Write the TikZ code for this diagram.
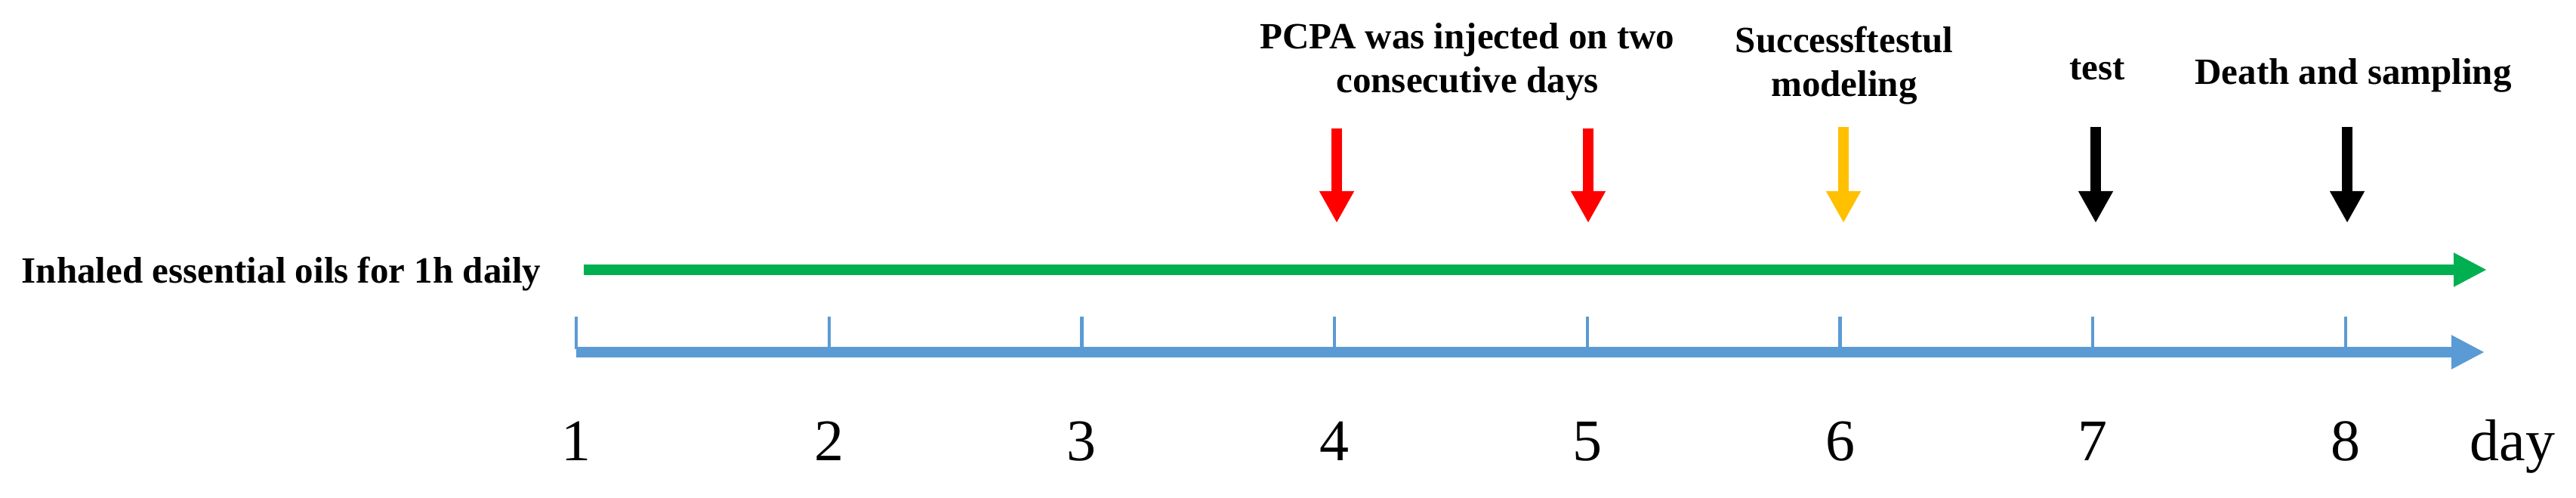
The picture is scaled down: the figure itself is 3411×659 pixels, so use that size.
\documentclass[tikz,border=0pt]{standalone}
\usepackage{fontspec}
\setmainfont{Liberation Serif}
\usetikzlibrary{arrows.meta}
\definecolor{tlgreen}{HTML}{00B050}
\definecolor{tlblue}{HTML}{5B9BD5}
\definecolor{tlred}{HTML}{FF0000}
\definecolor{tlyellow}{HTML}{FFC000}
\begin{document}
\begin{tikzpicture}[x=0.25pt,y=-0.25pt,
  lab/.style={font=\fontsize{12.25}{14.5}\selectfont\bfseries, inner sep=0pt, align=center, anchor=base},
  num/.style={font=\fontsize{19.5}{23}\selectfont, inner sep=0pt, anchor=base},
  evarrow/.style={line width=3.5pt, -{Triangle[length=10.5pt,width=10.75pt]}},
  axisarrow/.style={line width=3.5pt, -{Triangle[length=11pt,width=10.5pt]}},
  tickmark/.style={line width=1.1pt, draw=tlblue}]
\useasboundingbox (0,0) rectangle (3411,659);

% green inhalation line
\node[lab, anchor=base west] (inh) at (28,375) {Inhaled essential oils for 1h daily};
\coordinate (gs) at (773,357);
\coordinate (ge) at (3293,357);
\draw[axisarrow, draw=tlgreen, fill=tlgreen] (gs) -- (ge);

% blue time axis
\coordinate (bs) at (763,466);
\coordinate (be) at (3290,466);
\draw[axisarrow, draw=tlblue, fill=tlblue] (bs) -- (be);

% ticks and numbers
\foreach \k in {1,...,8} {
  \pgfmathsetmacro{\xx}{763+(\k-1)*334.7}
  \coordinate (t\k) at (\xx,419);
  \coordinate (tb\k) at (\xx,462);
  \draw[tickmark] (t\k) -- (tb\k);
  \node[num] (n\k) at (\xx,610) {\k};
}
\node[num, anchor=base west] (day) at (3270,610) {day};

% event arrows
\coordinate (a4) at (1770,170); \coordinate (a4e) at (1770,295);
\coordinate (a5) at (2103,170); \coordinate (a5e) at (2103,295);
\coordinate (a6) at (2441,168); \coordinate (a6e) at (2441,295);
\coordinate (a7) at (2775,168); \coordinate (a7e) at (2775,295);
\coordinate (a8) at (3108,168); \coordinate (a8e) at (3108,295);
\draw[evarrow, draw=tlred, fill=tlred] (a4) -- (a4e);
\draw[evarrow, draw=tlred, fill=tlred] (a5) -- (a5e);
\draw[evarrow, draw=tlyellow, fill=tlyellow] (a6) -- (a6e);
\draw[evarrow, draw=black, fill=black] (a7) -- (a7e);
\draw[evarrow, draw=black, fill=black] (a8) -- (a8e);

% labels (base anchor = baseline of the last line)
\node[lab] (l4) at (1943,123) {PCPA was injected on two\\consecutive days};
\node[lab] (l6) at (2442,128) {Successftestul\\modeling};
\node[lab] (l7) at (2777,106) {test};
\node[lab] (l8) at (3116,112) {Death and sampling};
\end{tikzpicture}
\end{document}
